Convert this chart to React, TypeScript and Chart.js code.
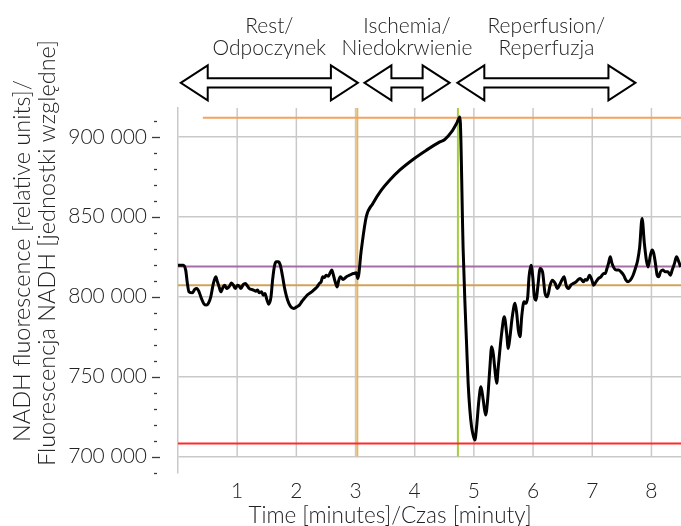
import React, { useEffect, useRef } from 'react';
import { Chart, registerables } from 'chart.js';

Chart.register(...registerables);

// ---- NADH curve, split by phase (time in minutes, fluorescence in relative units)
const restTime = [0, 0.09, 0.13, 0.158, 0.186, 0.242, 0.283, 0.317, 0.356, 0.395, 0.441, 0.48, 0.514, 0.554, 0.598, 0.639, 0.666, 0.695, 0.724, 0.763, 0.792, 0.819, 0.853, 0.881, 0.903, 0.937, 0.966, 1.005, 1.034, 1.063, 1.102, 1.136, 1.175, 1.203, 1.242, 1.276, 1.317, 1.344, 1.373, 1.412, 1.441, 1.469, 1.5, 1.534, 1.571, 1.598, 1.627, 1.656, 1.695, 1.729, 1.768, 1.808, 1.853, 1.898, 1.954, 2.005, 2.051, 2.09, 2.136, 2.181, 2.22, 2.259, 2.305, 2.351, 2.39, 2.419, 2.446, 2.475, 2.503, 2.542, 2.571, 2.598, 2.627, 2.656, 2.69, 2.717, 2.746, 2.785, 2.814, 2.859, 2.898, 2.937, 2.971, 3.012, 3.039];
const restNadh = [819700, 819700, 816600, 808400, 803000, 802400, 804500, 805100, 803000, 798900, 795300, 794700, 795900, 799900, 808300, 812400, 809300, 806100, 803000, 806100, 807200, 805100, 805800, 807200, 808600, 807200, 805100, 807200, 806600, 805100, 807600, 808300, 806600, 805100, 804500, 804100, 803400, 804100, 802400, 803000, 800900, 802000, 798400, 795300, 799700, 810300, 818600, 821800, 821800, 819700, 812400, 804100, 797800, 794100, 792600, 793600, 794700, 796800, 798900, 800900, 802000, 803000, 804500, 806100, 808300, 809300, 812400, 812000, 813400, 812800, 814900, 816600, 813400, 809300, 806100, 810300, 812400, 810800, 811400, 812800, 813400, 814100, 814500, 814900, 811400];

const ischemiaTime = [3.097, 3.181, 3.293, 3.436, 3.576, 3.746, 3.971, 4.198, 4.424, 4.508, 4.622, 4.707, 4.763];
const ischemiaNadh = [829100, 849900, 858300, 866600, 872800, 879100, 885800, 891600, 896800, 898300, 903000, 908300, 912400];

const reperfusionTime = [4.819, 4.847, 4.876, 4.903, 4.932, 4.961, 4.988, 5.017, 5.046, 5.085, 5.119, 5.158, 5.198, 5.232, 5.271, 5.3, 5.327, 5.356, 5.385, 5.412, 5.469, 5.514, 5.554, 5.581, 5.61, 5.649, 5.695, 5.724, 5.751, 5.78, 5.808, 5.847, 5.876, 5.91, 5.932, 5.966, 5.995, 6.022, 6.051, 6.08, 6.119, 6.161, 6.203, 6.242, 6.288, 6.327, 6.373, 6.412, 6.446, 6.486, 6.525, 6.559, 6.598, 6.639, 6.683, 6.729, 6.768, 6.797, 6.825, 6.853, 6.881, 6.91, 6.954, 6.995, 7.022, 7.063, 7.107, 7.147, 7.192, 7.22, 7.249, 7.275, 7.305, 7.334, 7.373, 7.407, 7.446, 7.486, 7.531, 7.571, 7.605, 7.644, 7.69, 7.729, 7.768, 7.802, 7.842, 7.881, 7.915, 7.944, 7.983, 8.012, 8.039, 8.068, 8.097, 8.124, 8.153, 8.192, 8.237, 8.276, 8.322, 8.351, 8.39, 8.424, 8.463, 8.492];
const reperfusionNadh = [829100, 797800, 770900, 745900, 729100, 718600, 713400, 710300, 718600, 735300, 743600, 735300, 725900, 735300, 756100, 768600, 764500, 754100, 745800, 756100, 777000, 787400, 777000, 767600, 774900, 787400, 795800, 789500, 779100, 774900, 787400, 796800, 795800, 799900, 812400, 819700, 812400, 799900, 797800, 806100, 817600, 815300, 802000, 799900, 807200, 810300, 808300, 805100, 807200, 810300, 812400, 807200, 805100, 807200, 808300, 809300, 810800, 811400, 810300, 809300, 810800, 810300, 813400, 810300, 807200, 809300, 811400, 812400, 814500, 814500, 817600, 820800, 824900, 820800, 817600, 816600, 816600, 815500, 813400, 810300, 809300, 810300, 813400, 817600, 822800, 831100, 848900, 833300, 822800, 818600, 825900, 829100, 827000, 820800, 813400, 812400, 815500, 816600, 815500, 815500, 813400, 816600, 820800, 824900, 821800, 818600];

// ---- reference levels
const peakLevel = 911900;
const peakLevelFrom = 0.42;
const baselineLevel = 818800;
const meanRestLevel = 807200;
const minimumLevel = 708100;
const ischemiaOnset = 3.03;
const reperfusionOnset = 4.73;

// ---- axes
const xMin = 0;
const xMax = 8.5;
const xTickValues = [1, 2, 3, 4, 5, 6, 7, 8];
const yMin = 690000;
const yMax = 918000;
const yMajorValues = [700000, 750000, 800000, 850000, 900000];
const yMinorValues = [690000, 710000, 720000, 730000, 740000, 760000, 770000, 780000, 790000, 810000, 820000, 830000, 840000, 860000, 870000, 880000, 890000, 910000];
const yGridBottom = 700000;

// ---- phase annotations
const phaseLine1 = ['Rest/', 'Ischemia/', 'Reperfusion/'];
const phaseLine2 = ['Odpoczynek', 'Niedokrwienie', 'Reperfuzja'];
const phaseStart = [0.046, 3.15, 4.72];
const phaseEnd = [3.04, 4.59, 7.73];

const xTitle = 'Time [minutes]/Czas [minuty]';
const yTitle1 = 'NADH fluorescence [relative units]/';
const yTitle2 = 'Fluorescencja NADH [jednostki względne]';

const FONT = 'Lato, "Open Sans", "DejaVu Sans", sans-serif';
const WEIGHT = '300';
const TEXT = '#222222';
const GRID = '#c9c9c9';

function fmt(v: number): string {
  return String(Math.round(v)).replace(/\B(?=(\d{3})+(?!\d))/g, ' ');
}

function drawArrow(ctx: CanvasRenderingContext2D, x0: number, x1: number, cy: number) {
  const head = 27;
  const hh = 17.5;
  const sh = 4.6;
  ctx.beginPath();
  ctx.moveTo(x0, cy);
  ctx.lineTo(x0 + head, cy - hh);
  ctx.lineTo(x0 + head, cy - sh);
  ctx.lineTo(x1 - head, cy - sh);
  ctx.lineTo(x1 - head, cy - hh);
  ctx.lineTo(x1, cy);
  ctx.lineTo(x1 - head, cy + hh);
  ctx.lineTo(x1 - head, cy + sh);
  ctx.lineTo(x0 + head, cy + sh);
  ctx.lineTo(x0 + head, cy + hh);
  ctx.closePath();
  ctx.fillStyle = '#ffffff';
  ctx.fill();
  ctx.lineWidth = 2;
  ctx.lineJoin = 'miter';
  ctx.strokeStyle = '#000000';
  ctx.stroke();
}

const decorPlugin = {
  id: 'decor',
  beforeDatasetsDraw(chart: any) {
    const { ctx, chartArea, scales } = chart;
    const x = scales.x;
    const y = scales.y;
    ctx.save();
    ctx.strokeStyle = GRID;
    ctx.lineWidth = 1.5;
    const yb = y.getPixelForValue(yGridBottom);
    for (const t of xTickValues) {
      const px = x.getPixelForValue(t);
      ctx.beginPath();
      ctx.moveTo(px, chartArea.top);
      ctx.lineTo(px, yb);
      ctx.stroke();
    }
    ctx.restore();
  },
  afterDraw(chart: any) {
    const { ctx, chartArea, scales } = chart;
    const x = scales.x;
    const y = scales.y;
    ctx.save();
    // y tick dashes (detached from the axis)
    ctx.strokeStyle = '#3a3a3a';
    ctx.lineWidth = 1.3;
    const dash = (v: number, major: boolean) => {
      const py = Math.round(y.getPixelForValue(v)) + 0.5;
      ctx.beginPath();
      ctx.moveTo(chartArea.left - (major ? 26 : 24), py);
      ctx.lineTo(chartArea.left - (major ? 18 : 21), py);
      ctx.stroke();
    };
    yMajorValues.forEach((v) => dash(v, true));
    yMinorValues.forEach((v) => dash(v, false));

    // phase arrows and labels
    ctx.font = `${WEIGHT} 21px ${FONT}`;
    ctx.textAlign = 'center';
    ctx.textBaseline = 'alphabetic';
    for (let i = 0; i < phaseStart.length; i++) {
      const x0 = x.getPixelForValue(phaseStart[i]);
      const x1 = x.getPixelForValue(phaseEnd[i]);
      drawArrow(ctx, x0, x1, 82.8);
      const cx = (x0 + x1) / 2;
      ctx.fillStyle = TEXT;
      ctx.fillText(phaseLine1[i], cx, 33);
      ctx.fillText(phaseLine2[i], cx, 55);
    }

    // x title
    ctx.fillStyle = TEXT;
    ctx.font = `${WEIGHT} 22.5px ${FONT}`;
    ctx.textAlign = 'center';
    ctx.fillText(xTitle, 390, 523);

    // y title (two lines, rotated)
    ctx.font = `${WEIGHT} 23.5px ${FONT}`;
    ctx.save();
    ctx.translate(30, 261);
    ctx.rotate(-Math.PI / 2);
    ctx.fillText(yTitle1, 0, 0);
    ctx.restore();
    ctx.save();
    ctx.translate(54.5, 253);
    ctx.rotate(-Math.PI / 2);
    ctx.fillText(yTitle2, 0, 0);
    ctx.restore();

    ctx.restore();
  },
};

function buildCurve() {
  const pts: { x: number; y: number }[] = [];
  const add = (ts: number[], vs: number[]) => ts.forEach((t, i) => pts.push({ x: t, y: vs[i] }));
  add(restTime, restNadh);
  add(ischemiaTime, ischemiaNadh);
  add(reperfusionTime, reperfusionNadh);
  return pts;
}

function hLine(v: number, from: number, color: string) {
  return {
    data: [{ x: from, y: v }, { x: xMax, y: v }],
    borderColor: color,
    borderWidth: 2,
    pointRadius: 0,
    fill: false,
  };
}

function vLine(t: number, color: string) {
  return {
    data: [{ x: t, y: yGridBottom }, { x: t, y: yMax }],
    borderColor: color,
    borderWidth: 2,
    pointRadius: 0,
    fill: false,
  };
}

export default function App() {
  const ref = useRef<HTMLCanvasElement | null>(null);

  useEffect(() => {
    if (!ref.current) return;
    const chart = new Chart(ref.current, {
      type: 'line',
      data: {
        datasets: [
          {
            data: buildCurve(),
            borderColor: '#000000',
            borderWidth: 3,
            pointRadius: 0,
            fill: false,
            cubicInterpolationMode: 'monotone',
          } as any,
          hLine(peakLevel, peakLevelFrom, '#f5a25d'),
          hLine(baselineLevel, xMin, '#a86ca6'),
          hLine(meanRestLevel, xMin, '#cfa35e'),
          hLine(minimumLevel, xMin, '#ff2a2a'),
          vLine(ischemiaOnset, '#e6b467'),
          vLine(reperfusionOnset, '#a4cf3a'),
        ],
      },
      options: {
        responsive: false,
        animation: false,
        devicePixelRatio: 1,
        layout: { padding: { top: 108, left: 0, right: 0, bottom: 0 } },
        plugins: { legend: { display: false }, tooltip: { enabled: false } },
        scales: {
          x: {
            type: 'linear',
            min: xMin,
            max: xMax,
            grid: { display: false },
            border: { display: false },
            afterBuildTicks: (s: any) => {
              s.ticks = xTickValues.map((v) => ({ value: v }));
            },
            ticks: {
              autoSkip: false,
              maxRotation: 0,
              padding: -2,
              color: TEXT,
              font: { family: FONT, size: 21, weight: WEIGHT },
              callback: (v: any) => String(v),
            },
            afterFit: (s: any) => {
              s.height = 53.5;
            },
          },
          y: {
            type: 'linear',
            min: yMin,
            max: yMax,
            afterBuildTicks: (s: any) => {
              s.ticks = yMajorValues.map((v) => ({ value: v }));
            },
            grid: {
              drawTicks: false,
              lineWidth: 1.5,
              color: GRID,
            },
            border: { display: true, color: GRID, width: 1.5 },
            ticks: {
              autoSkip: false,
              padding: 31,
              color: TEXT,
              font: { family: FONT, size: 21, weight: WEIGHT },
              callback: (v: any) => fmt(Number(v)),
            },
            afterFit: (s: any) => {
              s.width = 178;
            },
          },
        },
      } as any,
      plugins: [decorPlugin],
    });
    return () => chart.destroy();
  }, []);

  return (
    <div style={{ position: 'fixed', left: 0, top: 0, width: 681, height: 526, background: '#fff' }}>
      <canvas ref={ref} width={681} height={526} style={{ display: 'block', width: 681, height: 526 }} />
    </div>
  );
}
